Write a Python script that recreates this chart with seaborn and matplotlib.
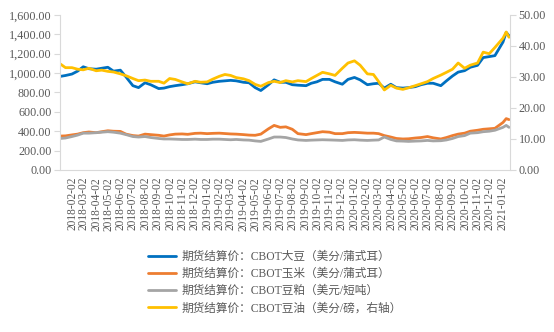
import matplotlib
matplotlib.use("Agg")
import matplotlib.pyplot as plt
from matplotlib.ticker import FuncFormatter
import seaborn as sns
import pandas as pd

dates = [
    "2018-01-02", "2018-01-16", "2018-02-01", "2018-02-15", "2018-03-01", "2018-03-15",
    "2018-04-02", "2018-04-16", "2018-05-01", "2018-05-15", "2018-06-01", "2018-06-15",
    "2018-07-02", "2018-07-16", "2018-08-01", "2018-08-15", "2018-09-04", "2018-09-17",
    "2018-10-01", "2018-10-15", "2018-11-01", "2018-11-15", "2018-12-03", "2018-12-17",
    "2019-01-02", "2019-01-16", "2019-02-01", "2019-02-15", "2019-03-01", "2019-03-15",
    "2019-04-02", "2019-04-16", "2019-05-01", "2019-05-15", "2019-06-03", "2019-06-17",
    "2019-07-02", "2019-07-16", "2019-08-01", "2019-08-15", "2019-09-04", "2019-09-17",
    "2019-10-01", "2019-10-15", "2019-11-01", "2019-11-15", "2019-12-03", "2019-12-17",
    "2020-01-02", "2020-01-16", "2020-02-03", "2020-02-18", "2020-03-02", "2020-03-16",
    "2020-04-01", "2020-04-15", "2020-05-01", "2020-05-15", "2020-06-01", "2020-06-15",
    "2020-07-01", "2020-07-15", "2020-08-03", "2020-08-17", "2020-09-01", "2020-09-15",
    "2020-10-01", "2020-10-15", "2020-11-02", "2020-11-16", "2020-12-01", "2020-12-15",
    "2021-01-04", "2021-01-12", "2021-01-19",
]

soybean = [
    965, 975, 990, 1020, 1065, 1045, 1040, 1050, 1060, 1020, 1030, 960,
    870, 850, 900, 880, 840, 845, 860, 870, 880, 890, 910, 900,
    890, 905, 915, 920, 925, 920, 905, 900, 850, 820, 880, 930,
    905, 905, 880, 875, 870, 895, 910, 935, 935, 910, 885, 935,
    955, 930, 880, 890, 895, 845, 885, 850, 845, 850, 860, 880,
    895, 895, 870, 920, 970, 1010, 1025, 1060, 1080, 1160, 1170, 1180,
    1320, 1420, 1385,
]

corn = [
    350, 352, 362, 370, 385, 392, 385, 395, 405, 400, 398, 370,
    355, 350, 370, 365, 358, 350, 362, 370, 372, 368, 378, 380,
    375, 378, 380, 376, 372, 370, 365, 360, 358, 370, 425, 460,
    440, 445, 420, 375, 365, 375, 385, 395, 390, 375, 375, 385,
    388, 385, 380, 380, 375, 355, 340, 325, 320, 322, 330, 335,
    345, 332, 320, 335, 355, 370, 380, 400, 410, 420, 425, 430,
    490, 530, 520,
]

soymeal = [
    325, 330, 345, 360, 380, 380, 385, 390, 395, 390, 380, 365,
    345, 340, 345, 335, 325, 320, 320, 318, 315, 315, 318, 315,
    315, 318, 318, 315, 312, 315, 310, 308, 300, 295, 320, 340,
    340, 335, 320, 310, 305, 308, 310, 312, 310, 308, 305, 310,
    312, 308, 305, 308, 310, 340, 315, 300, 298, 295, 298, 300,
    305, 300, 302, 310, 325, 345, 355, 380, 385, 395, 400, 410,
    440, 460, 440,
]

soyoil = [
    34.3, 33.0, 33.0, 32.5, 32.3, 32.8, 32.0, 32.2, 31.8, 31.6, 31.0, 30.4,
    29.5, 28.8, 29.0, 28.6, 28.6, 28.0, 29.5, 29.2, 28.4, 27.8, 28.6, 28.3,
    28.4, 29.3, 30.2, 30.8, 30.5, 29.8, 29.4, 28.8, 27.6, 27.0, 28.2, 28.6,
    28.2, 28.8, 28.4, 28.8, 28.5, 29.5, 30.5, 31.5, 31.0, 30.5, 32.8, 34.5,
    35.2, 33.8, 31.0, 30.8, 28.5, 25.8, 27.3, 26.4, 26.0, 26.5, 27.2, 27.8,
    28.5, 29.5, 30.6, 31.5, 32.5, 34.5, 32.8, 33.8, 34.5, 38.0, 37.5, 39.5,
    42.5, 44.5, 42.8,
]

labels = [
    "期货结算价：CBOT大豆（美分/蒲式耳）",
    "期货结算价：CBOT玉米（美分/蒲式耳）",
    "期货结算价：CBOT豆粕（美元/短吨）",
    "期货结算价：CBOT豆油（美分/磅，右轴）",
]
colors = ["#0070C0", "#ED7D31", "#A5A5A5", "#FFC000"]

tick_dates = pd.date_range("2018-01-02", "2021-01-02", freq="MS") + pd.Timedelta(days=1)
tick_labels = [d.strftime("%Y-%m-%d") for d in tick_dates]

df = pd.DataFrame({"date": pd.to_datetime(dates), "soybean": soybean, "corn": corn,
                   "soymeal": soymeal, "soyoil": soyoil})

sns.set_style("white")
plt.rcParams["font.family"] = ["Liberation Serif", "Noto Sans CJK SC", "DejaVu Sans"]

fig = plt.figure(figsize=(5.54, 3.32), dpi=100)
ax = fig.add_axes([0.108, 0.488, 0.813, 0.467])
ax2 = ax.twinx()

lw = 2.0
sns.lineplot(data=df, x="date", y="soybean", ax=ax, color=colors[0], lw=lw, label=labels[0], legend=False)
sns.lineplot(data=df, x="date", y="corn", ax=ax, color=colors[1], lw=lw, label=labels[1], legend=False)
sns.lineplot(data=df, x="date", y="soymeal", ax=ax, color=colors[2], lw=lw, label=labels[2], legend=False)
sns.lineplot(data=df, x="date", y="soyoil", ax=ax2, color=colors[3], lw=lw, label=labels[3], legend=False)

ax.set_xlim(pd.Timestamp("2018-01-02"), pd.Timestamp("2021-01-22"))
ax.set_ylim(0, 1600)
ax2.set_ylim(0, 50)
ax.set_yticks(range(0, 1601, 200))
ax2.set_yticks(range(0, 51, 10))
ax.yaxis.set_major_formatter(FuncFormatter(lambda v, p: f"{v:,.2f}"))
ax2.yaxis.set_major_formatter(FuncFormatter(lambda v, p: f"{v:,.2f}"))

ax.set_xticks(tick_dates)
ax.set_xticklabels(tick_labels, rotation=90)
ax.set_xlabel("")
ax.set_ylabel("")
ax2.set_ylabel("")

tc = "#595959"
gc = "#D9D9D9"
for a in (ax, ax2):
    for s in a.spines.values():
        s.set_visible(False)
ax.tick_params(axis="y", labelsize=8.7, colors=tc, length=4, width=0.8, color=gc,
               direction="out", pad=2)
ax2.tick_params(axis="y", labelsize=8.7, colors=tc, length=4, width=0.8, color=gc,
                direction="out", pad=2)
ax.tick_params(axis="x", labelsize=8.3, colors=tc, length=4, direction="out", width=0.8,
               color=gc, pad=1)
ax.spines["bottom"].set_visible(True)
ax.spines["bottom"].set_color(gc)
ax2.spines["left"].set_visible(True)
ax2.spines["left"].set_color(gc)
ax2.spines["right"].set_visible(True)
ax2.spines["right"].set_color(gc)
ax.grid(False)
ax2.grid(False)

handles = ax.get_lines()[:3] + ax2.get_lines()[:1]
leg = fig.legend(handles, labels, loc="upper left", bbox_to_anchor=(0.268, 0.245),
                 frameon=False, fontsize=8.4, handlelength=2.4, handletextpad=0.4,
                 labelspacing=0.45, borderpad=0, borderaxespad=0)
for t in leg.get_texts():
    t.set_color(tc)

fig.savefig("out.png", dpi=100)
